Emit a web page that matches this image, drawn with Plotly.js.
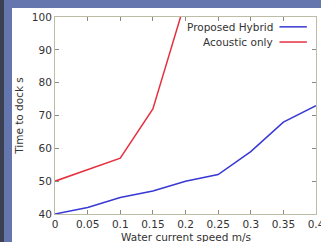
<!DOCTYPE html>
<html>
<head>
<meta charset="utf-8">
<script src="https://cdn.plot.ly/plotly-3.0.1.min.js"></script>
<style>
html,body{margin:0;padding:0;width:321px;height:242px;overflow:hidden;background:#6575ad;}
#strip{position:absolute;left:0;top:0;width:4px;height:242px;background:#3c4152;}
#white{position:absolute;left:12px;top:8px;width:309px;height:234px;background:#fff;}
#chart{position:absolute;left:0;top:0;width:321px;height:242px;}
</style>
</head>
<body>
<div id="strip"></div>
<div id="white"></div>
<div id="chart"></div>
<script>
// Data
const speeds = [0, 0.05, 0.1, 0.15, 0.2, 0.25, 0.3, 0.35, 0.4];
const hybridTime = [40, 42, 45, 47, 50, 52, 59, 68, 73];
const acousticSpeeds = [0, 0.05, 0.1, 0.15, 0.2];
const acousticTime = [50, 53.5, 57, 72, 105];
const seriesNames = ['Proposed Hybrid', 'Acoustic only'];
const xTickVals = [0, 0.05, 0.1, 0.15, 0.2, 0.25, 0.3, 0.35, 0.4];
const xTickText = ['0', '0.05', '0.1', '0.15', '0.2', '0.25', '0.3', '0.35', '0.4'];
const yTickVals = [40, 50, 60, 70, 80, 90, 100];
const xTitle = 'Water current speed m/s';
const yTitle = 'Time to dock s';

const colors = ['#3838d4', '#e6303e'];
const font = {family: 'DejaVu Sans, sans-serif', size: 10.5, color: '#333'};

const traces = [
  {x: speeds, y: hybridTime, name: seriesNames[0], mode: 'lines',
   line: {color: colors[0], width: 1.5}},
  {x: acousticSpeeds, y: acousticTime, name: seriesNames[1], mode: 'lines',
   line: {color: colors[1], width: 1.5}}
];

// matplotlib-style legend: right-aligned text with line sample on the right
const annotations = [];
const shapes = [];
seriesNames.forEach((n, i) => {
  const yy = 0.95 - i * 0.077;
  annotations.push({text: n, xref: 'paper', yref: 'paper', x: 0.843, y: yy,
    xanchor: 'right', yanchor: 'middle', showarrow: false, font: font});
  shapes.push({type: 'line', xref: 'paper', yref: 'paper', x0: 0.86, x1: 0.965,
    y0: yy, y1: yy, line: {color: colors[i], width: 1.5}});
});
// x-axis title, placed slightly lower than Plotly's margin-constrained title
annotations.push({text: xTitle, xref: 'paper', yref: 'paper', x: 0.5, y: -0.118,
  xanchor: 'center', yanchor: 'middle', showarrow: false, font: font});

const axisCommon = {
  showgrid: false, zeroline: false, showline: true, linecolor: '#bdbda6', linewidth: 1,
  mirror: 'ticks', ticks: 'inside', ticklen: 4, tickcolor: '#8a8a80', tickfont: font,
  ticklabeloverflow: 'allow'
};

const layout = {
  width: 321, height: 242,
  margin: {l: 55, r: 5, t: 17, b: 28},
  paper_bgcolor: 'rgba(0,0,0,0)', plot_bgcolor: '#ffffff',
  showlegend: false,
  font: font,
  xaxis: Object.assign({}, axisCommon, {
    range: [0, 0.4], tickvals: xTickVals, ticktext: xTickText
  }),
  yaxis: Object.assign({}, axisCommon, {
    range: [40, 100], tickvals: yTickVals,
    title: {text: yTitle, font: font, standoff: 6}
  }),
  annotations: annotations,
  shapes: shapes
};

Plotly.newPlot('chart', traces, layout, {displayModeBar: false, staticPlot: true});
</script>
</body>
</html>
